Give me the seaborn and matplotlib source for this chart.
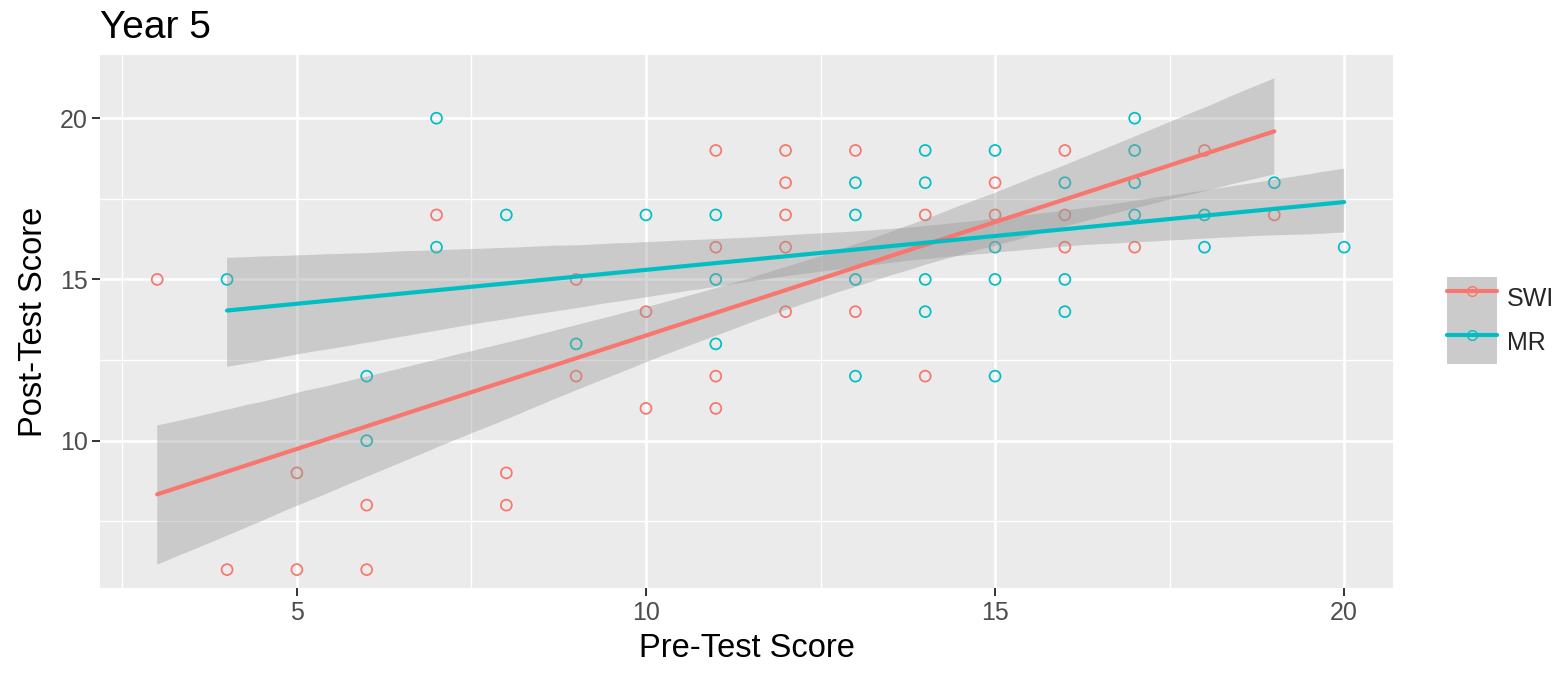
import numpy as np
import pandas as pd
import matplotlib
matplotlib.use("Agg")
import matplotlib.pyplot as plt
import seaborn as sns
from matplotlib.lines import Line2D
from matplotlib.patches import Patch
from matplotlib.legend_handler import HandlerTuple

# ---- data ----
swi_pre = [3, 4, 5, 5, 6, 6, 7, 8, 8, 9, 9, 10, 10, 11, 11, 11, 11,
           12, 12, 12, 12, 12, 13, 13, 14, 14, 15, 15, 16, 16, 16, 17, 18, 19]
swi_post = [15, 6, 9, 6, 8, 6, 17, 9, 8, 15, 12, 14, 11, 19, 16, 12, 11,
            19, 18, 17, 16, 14, 19, 14, 17, 12, 18, 17, 19, 17, 16, 16, 19, 17]
mr_pre = [4, 6, 6, 7, 7, 8, 9, 10, 11, 11, 11, 13, 13, 13, 13, 14, 14, 14, 14,
          15, 15, 15, 15, 16, 16, 16, 17, 17, 17, 17, 18, 18, 19, 20]
mr_post = [15, 12, 10, 20, 16, 17, 13, 17, 17, 15, 13, 18, 17, 15, 12, 19, 18, 15, 14,
           19, 16, 15, 12, 18, 15, 14, 20, 19, 18, 17, 17, 16, 18, 16]
groups = ["SWI", "MR"]
group_colors = ["#F8766D", "#00BFC4"]
x_ticks = [5, 10, 15, 20]
y_ticks = [10, 15, 20]

df = pd.concat([
    pd.DataFrame({"pre": swi_pre, "post": swi_post, "group": "SWI"}),
    pd.DataFrame({"pre": mr_pre, "post": mr_post, "group": "MR"}),
], ignore_index=True)

sns.set_theme(style="white")
plt.rcParams["font.family"] = ["Liberation Sans", "DejaVu Sans"]

fig = plt.figure(figsize=(15.61, 6.77), dpi=100)
ax = fig.add_axes([100 / 1561, 1 - 588 / 677, (1393 - 100) / 1561, (588 - 55) / 677])
ax.set_facecolor("#EBEBEB")

# points first (under ribbons, as in ggplot)
for g, c in zip(groups, group_colors):
    sub = df[df.group == g]
    sns.regplot(data=sub, x="pre", y="post", ax=ax, fit_reg=False, color=c,
                scatter_kws=dict(facecolors="none", edgecolors=c, s=62,
                                 linewidths=1.25, alpha=1, zorder=2))

# fits with confidence bands
for g, c in zip(groups, group_colors):
    sub = df[df.group == g]
    before = len(ax.collections)
    sns.regplot(data=sub, x="pre", y="post", ax=ax, scatter=False, color=c,
                ci=85, n_boot=2000, seed=1,
                line_kws=dict(lw=3, zorder=4))
    for coll in ax.collections[before:]:
        coll.set_facecolor((0.6, 0.6, 0.6))
        coll.set_alpha(0.4)
        coll.set_edgecolor("none")
        coll.set_zorder(3)

ax.set_xlim(2.18, 20.7)
ax.set_ylim(5.43, 21.96)
ax.set_xticks(x_ticks)
ax.set_yticks(y_ticks)
ax.set_xticks([2.5, 7.5, 12.5, 17.5], minor=True)
ax.set_yticks([7.5, 12.5, 17.5], minor=True)
ax.grid(which="major", color="white", lw=1.9)
ax.grid(which="minor", color="white", lw=0.95)
ax.set_axisbelow(True)
for s in ax.spines.values():
    s.set_visible(False)
ax.tick_params(which="major", length=6, width=1.4, color="#333333",
               labelcolor="#4D4D4D", labelsize=18, pad=3, bottom=True, left=True)
ax.tick_params(which="minor", length=0)

ax.set_xlabel("Pre-Test Score", fontsize=23.5, color="black", labelpad=6)
ax.set_ylabel("Post-Test Score", fontsize=23.5, color="black", labelpad=8)
ax.set_title("Year 5", loc="left", fontsize=28, pad=12, color="black")

handles = []
for c in group_colors:
    bg = Patch(facecolor="#CBCBCB", edgecolor="none")
    ln = Line2D([], [], color=c, lw=3, marker="o", markerfacecolor="none",
                markeredgecolor=c, markersize=7)
    handles.append((bg, ln))
fig.legend(handles, groups, handler_map={tuple: HandlerTuple(ndivide=1, pad=0)},
           loc="center left", bbox_to_anchor=(1447 / 1561, 1 - 320 / 677),
           frameon=False, fontsize=18, handlelength=2.0, handleheight=2.3,
           labelspacing=0, handletextpad=0.4, borderpad=0, borderaxespad=0)

fig.savefig("out.png", dpi=100)
